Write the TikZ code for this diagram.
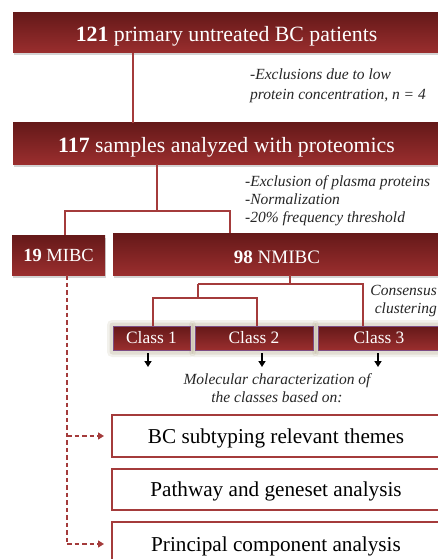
\documentclass[tikz,border=0pt]{standalone}
\usepackage{fontspec}
\setmainfont{Liberation Serif}
\usetikzlibrary{shadows,arrows.meta}
\definecolor{rtop}{HTML}{651919}
\definecolor{rbot}{HTML}{9A2E2E}
\definecolor{rline}{HTML}{A43B3B}
\definecolor{glowc}{HTML}{B0A688}
\definecolor{cborder}{HTML}{7C4E86}
\begin{document}
\begin{tikzpicture}[x=1pt,y=-1pt,
  redbox/.style={rectangle, top color=rtop, bottom color=rbot, draw=none, text=white,
    inner sep=0pt, drop shadow={opacity=0.35, shadow xshift=1pt, shadow yshift=-2.5pt}},
  classbox/.style={rectangle, top color=rtop, bottom color=rbot, draw=cborder, line width=0.6pt,
    text=white, inner sep=0pt, minimum height=24pt, font=\fontsize{17.4}{19}\selectfont},
  whitebox/.style={rectangle, draw=rline, line width=2pt, fill=white, inner sep=0pt,
    minimum width=328pt, font=\fontsize{21.2}{23}\selectfont, text height=16pt, text depth=2pt},
  conn/.style={draw=rline, line width=1.5pt},
  dconn/.style={draw=rline, line width=1.4pt, dash pattern=on 4.5pt off 3pt},
  darrow/.style={dconn, -{Triangle[width=7pt,length=6pt]}, shorten >=7pt},
  smallarrow/.style={draw=black, line width=1.5pt, -{Triangle[width=7pt,length=6pt]}},
  note/.style={font=\fontsize{15.5}{18}\selectfont\itshape, text=black!85, inner sep=0pt},
]
\useasboundingbox (0,0) rectangle (438,559);
\clip (0,0) rectangle (438,559);

% main boxes
\node[redbox, minimum width=427pt, minimum height=40pt, font=\fontsize{21.8}{24}\selectfont,
  text height=18pt, text depth=0pt] (b1) at (226.5,33)
  {\textbf{121} primary untreated BC patients};
\node[redbox, minimum width=427pt, minimum height=41pt, font=\fontsize{21.8}{24}\selectfont,
  text height=18pt, text depth=0pt] (b2) at (226.5,143.5)
  {\textbf{117} samples analyzed with proteomics};
\node[redbox, minimum width=93pt, minimum height=40pt, font=\fontsize{18.5}{20}\selectfont,
  text height=14pt, text depth=0.6pt] (mibc) at (58.5,255)
  {\textbf{19} MIBC};
\node[redbox, minimum width=328pt, minimum height=42pt, font=\fontsize{19}{21}\selectfont,
  text height=18pt, text depth=0pt] (nm) at (277,254)
  {\textbf{98} NMIBC};

% class boxes with glow
\foreach \xa/\xb in {113/190,195/313,318/440}{
  \fill[glowc, opacity=0.16, rounded corners=5pt] (\xa-6,320) rectangle (\xb+6,357);
  \fill[glowc, opacity=0.25, rounded corners=3pt] (\xa-3.5,322.5) rectangle (\xb+3.5,354.5);
}
\node[classbox, minimum width=77pt] (c1) at (151.5,338) {Class 1};
\node[classbox, minimum width=118pt] (c2) at (254,338) {Class 2};
\node[classbox, minimum width=122pt] (c3) at (379,338) {Class 3};

% white boxes
\node[whitebox, minimum height=42pt] (bc) at (276,436) {BC subtyping relevant themes};
\node[whitebox, minimum height=41pt] (pw) at (276,489.5) {Pathway and geneset analysis};
\node[whitebox, minimum height=44pt] (pca) at (276,544) {Principal component analysis};

% notes
\node[note, anchor=base west] (n1a) at (250,80) {-Exclusions due to low};
\node[note, anchor=base west] (n1b) at (250,100) {protein concentration, \textit{n} = 4};
\node[note, anchor=base west] (n2a) at (245,186) {-Exclusion of plasma proteins};
\node[note, anchor=base west] (n2b) at (245,204) {-Normalization};
\node[note, anchor=base west] (n2c) at (245,222) {-20\% frequency threshold};
\node[note, anchor=base east] (n3a) at (437,295) {Consensus};
\node[note, anchor=base east] (n3b) at (437,313) {clustering};
\node[note, anchor=base] (n4a) at (277,384) {Molecular characterization of};
\node[note, anchor=base] (n4b) at (277,402) {the classes based on:};

% connectors
\coordinate (v1) at (133,0);
\draw[conn] (b1.south -| v1) -- (b2.north -| v1);
\coordinate (j2) at (157,211);
\coordinate (jm) at (65,211);
\coordinate (jn) at (230,211);
\draw[conn] (b2.south -| j2) -- (j2);
\draw[conn] (mibc.north -| jm) |- (jn) -- (nm.north -| jn);
\coordinate (k0) at (290,284);
\coordinate (k1) at (198,284);
\coordinate (k3) at (363,284);
\draw[conn] (nm.south -| k0) -- (k0);
\draw[conn] (k1) -- (k3) -- (c3.north -| k3);
\coordinate (m0) at (198,298);
\coordinate (m1) at (153,298);
\coordinate (m2) at (257,298);
\draw[conn] (k1) -- (m0);
\draw[conn] (c1.north -| m1) |- (m2) -- (c2.north -| m2);

% small arrows
\coordinate (a1) at (148,367);
\coordinate (a2) at (262,367);
\coordinate (a3) at (378,367);
\draw[smallarrow] (c1.south -| a1) ++(0,3) -- (a1);
\draw[smallarrow] (c2.south -| a2) ++(0,3) -- (a2);
\draw[smallarrow] (c3.south -| a3) ++(0,3) -- (a3);

% dashed
\coordinate (d0) at (67,544);
\draw[dconn] (mibc.south -| d0) -- (d0);
\draw[darrow] (bc.west -| d0) -- (bc.west);
\draw[darrow] (d0) -- (pca.west);
\end{tikzpicture}
\end{document}
